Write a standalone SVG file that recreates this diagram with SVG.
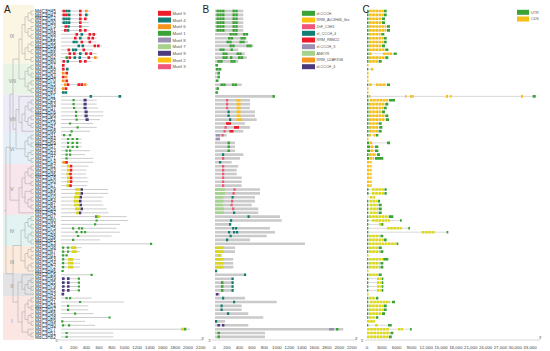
<svg xmlns="http://www.w3.org/2000/svg" width="550" height="351" viewBox="0 0 550 351">
<style>
.t{font-family:"Liberation Sans",Arial,sans-serif}
.pl{font-size:10px;fill:#222}
.cl{font-size:5px;fill:#8a8a8a;text-anchor:middle}
.lb{font-size:4.6px;fill:#222}
.ax{font-size:4.4px;fill:#444;text-anchor:middle}
.lg{font-size:4.4px;fill:#555}
.lg2{font-size:3.7px;fill:#555}
.pr{font-size:3.6px;fill:#444}
.tree{fill:none;stroke:#9a9a9a;stroke-width:.45}
.bb{fill:none;stroke:#8c8c8c;stroke-width:.45}
.axl{fill:none;stroke:#999;stroke-width:.4}
.mt{fill:none;stroke-width:2.7}
.sm{fill:none;stroke-width:2.2}
.bar{fill:none;stroke:#cacaca;stroke-width:2.6}
.dm{fill:none;stroke-width:2.6}
.intr{fill:none;stroke:#a0a0a0;stroke-width:.4}
.utr{fill:none;stroke:#3aa335;stroke-width:2.6}
.cds{fill:none;stroke:#f5bf18;stroke-width:2.6;stroke-dasharray:2.6 .6}
.cdl{fill:none;stroke:#dcd81c;stroke-width:2.6;stroke-dasharray:2.6 .6}
.red{stroke:#ec1c2a}.teal{stroke:#127d72}.ora{stroke:#f7941d}.grn{stroke:#3aa335}
.gp{stroke:#9b91b5}.lgn{stroke:#a5d28c}.pur{stroke:#4b3b7e}.gold{stroke:#fdc010}
.pink{stroke:#f0557a}.lime{stroke:#d9d41e}
</style>

<g id="clade-bands">
<rect x="3" y="5" width="31" height="58.5" fill="#fbf5e3"/>
<rect x="3" y="63.5" width="31" height="31" fill="#e9f4e6"/>
<rect x="3" y="94.5" width="31" height="38.5" fill="#ecebf6"/>
<rect x="3" y="133" width="31" height="31" fill="#e5f0f8"/>
<rect x="3" y="164" width="31" height="51" fill="#f9e6ec"/>
<rect x="3" y="215" width="31" height="31" fill="#e2f3f2"/>
<rect x="3" y="246" width="31" height="27" fill="#fcebdc"/>
<rect x="3" y="273" width="31" height="23" fill="#e3e3e6"/>
<rect x="3" y="296" width="31" height="44" fill="#fbe6e3"/>
</g>

<g id="panel-letters" class="t">
<text class="pl" x="4" y="12.5">A</text>
<text class="pl" x="202.5" y="12.5">B</text>
<text class="pl" x="362.5" y="12.5">C</text>
</g>

<g id="clade-labels" class="t">
<text class="cl" x="12" y="38">IX</text>
<text class="cl" x="12.5" y="83">VIII</text>
<text class="cl" x="12.5" y="121">VII</text>
<text class="cl" x="12" y="151">VI</text>
<text class="cl" x="12" y="191">V</text>
<text class="cl" x="12" y="233">IV</text>
<text class="cl" x="12" y="264">III</text>
<text class="cl" x="12" y="288">II</text>
<text class="cl" x="12" y="323">I</text>
</g>

<g id="tree">
<path class="tree" d="M34 11H31V14.9H34M34 18.8H31V22.6H34M34 26.5H31V30.4H34M34 34.3H31V38.2H34M34 42H31V45.9H34M34 49.8H31V53.7H34M34 57.6H31V61.4H34M31 12.9H28V20.7H31M31 28.5H28V36.2H31M31 44H28V51.7H31M28 16.8H25V32.3H28M28 47.8H25V59.5H31M25 24.6H22V53.6H25
M34 65.3H31V69.2H34M34 73.1H31V77H34M34 80.8H31V84.7H34M34 88.6H31V92.5H34M31 67.3H28V75H31M31 82.8H28V90.5H31M28 71.2H25V86.7H28M22 39.1H19V78.9H25
M34 100.2H31V104.1H34M34 108H31V111.9H34M34 115.8H31V119.6H34M34 123.5H31V127.4H34M31 102.2H28V110H31M31 117.7H28V125.5H31M28 106.1H25V121.6H28M25 113.9H22V131.3H34M34 96.4H19V122.6H22
M34 135.2H31V139H34M34 142.9H31V146.8H34M34 150.7H31V154.6H34M34 158.4H31V162.3H34M31 137.1H28V144.9H31M31 152.6H28V160.4H31M28 141H25V156.5H28M19 109.5H16V148.8H25
M34 166.2H31V170.1H34M34 174H31V177.8H34M34 181.7H31V185.6H34M34 189.5H31V193.4H34M34 197.2H31V201.1H34M34 205H31V208.9H34M31 168.1H28V175.9H31M31 199.2H28V207H31M28 172H25V183.7H31M31 191.4H25V203.1H28M25 177.9H22V197.3H25M22 187.6H19V212.8H34M19 59H13V129.2H16M13 94.1H10V200.2H19
M34 216.6H31V220.5H34M34 224.4H31V228.3H34M34 232.2H31V236H34M34 239.9H31V243.8H34M31 218.6H28V226.3H31M31 234.1H28V241.9H31M28 222.5H25V238H28
M34 247.7H31V251.6H34M34 255.4H31V259.3H34M34 263.2H31V267.1H34M31 249.6H28V257.4H31M31 265.1H28V271H34M28 253.5H25V268.1H28M25 230.2H21V260.8H25
M34 278.7H31V282.6H34M34 286.5H31V290.4H34M31 280.7H28V288.4H31M28 284.6H25V294.2H34M34 274.8H22V289.4H25
M34 298.1H31V302H34M34 305.9H31V309.8H34M34 313.6H31V317.5H34M34 321.4H31V325.3H34M34 333H31V336.9H34M31 300.1H28V307.8H31M31 315.6H28V323.3H31M34 329.2H28V335H31M28 304H25V319.5H28M25 311.8H22V332.1H28M22 282.1H18V322H22M21 245.5H13V302.1H18M10 147.2H6V273.8H13M6 210.5H4"/>
</g>

<g id="gene-labels" class="t">
<text class="lb"><tspan x="35" y="12.6">MdC3H45</tspan><tspan x="35" y="16.5">MdC3H47</tspan><tspan x="35" y="20.4">MdC3H12</tspan><tspan x="35" y="24.2">MdC3H30</tspan><tspan x="35" y="28.1">MdC3H73</tspan><tspan x="35" y="32">MdC3H61</tspan><tspan x="35" y="35.9">MdC3H08</tspan><tspan x="35" y="39.8">MdC3H22</tspan><tspan x="35" y="43.6">MdC3H55</tspan><tspan x="35" y="47.5">MdC3H39</tspan><tspan x="35" y="51.4">MdC3H18</tspan><tspan x="35" y="55.3">MdC3H66</tspan><tspan x="35" y="59.2">MdC3H02</tspan><tspan x="35" y="63">MdC3H80</tspan><tspan x="35" y="66.9">MdC3H27</tspan><tspan x="35" y="70.8">MdC3H58</tspan><tspan x="35" y="74.7">MdC3H04</tspan><tspan x="35" y="78.6">MdC3H34</tspan><tspan x="35" y="82.4">MdC3H70</tspan><tspan x="35" y="86.3">MdC3H15</tspan><tspan x="35" y="90.2">MdC3H49</tspan><tspan x="35" y="94.1">MdC3H83</tspan><tspan x="35" y="98">MdC3H11</tspan><tspan x="35" y="101.8">MdC3H25</tspan><tspan x="35" y="105.7">MdC3H63</tspan><tspan x="35" y="109.6">MdC3H37</tspan><tspan x="35" y="113.5">MdC3H76</tspan><tspan x="35" y="117.4">MdC3H06</tspan><tspan x="35" y="121.2">MdC3H52</tspan><tspan x="35" y="125.1">MdC3H19</tspan><tspan x="35" y="129">MdC3H41</tspan><tspan x="35" y="132.9">MdC3H68</tspan><tspan x="35" y="136.8">MdC3H31</tspan><tspan x="35" y="140.6">MdC3H84</tspan><tspan x="35" y="144.5">MdC3H09</tspan><tspan x="35" y="148.4">MdC3H57</tspan><tspan x="35" y="152.3">MdC3H23</tspan><tspan x="35" y="156.2">MdC3H44</tspan><tspan x="35" y="160">MdC3H71</tspan><tspan x="35" y="163.9">MdC3H14</tspan><tspan x="35" y="167.8">MdC3H62</tspan><tspan x="35" y="171.7">MdC3H03</tspan><tspan x="35" y="175.6">MdC3H36</tspan><tspan x="35" y="179.4">MdC3H78</tspan><tspan x="35" y="183.3">MdC3H50</tspan><tspan x="35" y="187.2">MdC3H17</tspan><tspan x="35" y="191.1">MdC3H29</tspan><tspan x="35" y="195">MdC3H65</tspan><tspan x="35" y="198.8">MdC3H10</tspan><tspan x="35" y="202.7">MdC3H54</tspan><tspan x="35" y="206.6">MdC3H81</tspan><tspan x="35" y="210.5">MdC3H26</tspan><tspan x="35" y="214.4">MdC3H42</tspan><tspan x="35" y="218.2">MdC3H07</tspan><tspan x="35" y="222.1">MdC3H60</tspan><tspan x="35" y="226">MdC3H33</tspan><tspan x="35" y="229.9">MdC3H75</tspan><tspan x="35" y="233.8">MdC3H20</tspan><tspan x="35" y="237.6">MdC3H48</tspan><tspan x="35" y="241.5">MdC3H85</tspan><tspan x="35" y="245.4">MdC3H13</tspan><tspan x="35" y="249.3">MdC3H38</tspan><tspan x="35" y="253.2">MdC3H67</tspan><tspan x="35" y="257">MdC3H01</tspan><tspan x="35" y="260.9">MdC3H53</tspan><tspan x="35" y="264.8">MdC3H24</tspan><tspan x="35" y="268.7">MdC3H72</tspan><tspan x="35" y="272.6">MdC3H46</tspan><tspan x="35" y="276.4">MdC3H16</tspan><tspan x="35" y="280.3">MdC3H59</tspan><tspan x="35" y="284.2">MdC3H35</tspan><tspan x="35" y="288.1">MdC3H79</tspan><tspan x="35" y="292">MdC3H05</tspan><tspan x="35" y="295.8">MdC3H43</tspan><tspan x="35" y="299.7">MdC3H64</tspan><tspan x="35" y="303.6">MdC3H21</tspan><tspan x="35" y="307.5">MdC3H74</tspan><tspan x="35" y="311.4">MdC3H32</tspan><tspan x="35" y="315.2">MdC3H56</tspan><tspan x="35" y="319.1">MdC3H28</tspan><tspan x="35" y="323">MdC3H69</tspan><tspan x="35" y="326.9">MdC3H40</tspan><tspan x="35" y="330.8">MdC3H77</tspan><tspan x="35" y="334.6">MdC3H51</tspan><tspan x="35" y="338.5">MdC3H82</tspan></text>
</g>

<g id="panelA-motifs">
<path class="bb" d="M61 11H90.7M61 14.9H90M61 18.8H88.3M61 22.6H89.3M61 26.5H89.3M61 30.4H90M61 34.3H96.7M61 38.2H96.7M61 42H96.7M61 45.9H101.7M61 49.8H93.3M61 53.7H96.7M61 57.6H98.3M61 61.4H91.7M61 65.3H63.5M61 69.2H68.3M61 73.1H67.7M61 77H66.7M61 80.8H67.7M61 84.7H88.3M61 88.6H66M61 92.5H66M61 96.4H121.7M61 100.2H96.7M61 104.1H96.7M61 108H98.3M61 111.9H103.3M61 115.8H103.3M61 119.6H100M61 123.5H93.3M61 127.4H96.7M61 131.3H90M61 135.2H71.7M61 139H81.7M61 142.9H81.7M61 146.8H81.7M61 150.7H90M61 154.6H85M61 158.4H93.3M61 162.3H93.3M61 166.2H88.3M61 170.1H86.7M61 174H86M61 177.8H87.3M61 181.7H88.3M61 185.6H87.3M61 189.5H108.3M61 193.4H108.3M61 197.2H103.3M61 201.1H101.7M61 205H103.3M61 208.9H106.7M61 212.8H108.3M61 216.6H126.7M61 220.5H128.3M61 224.4H120M61 228.3H116.7M61 232.2H120M61 236H111.7M61 239.9H100M61 243.8H151.7M61 247.7H81.7M61 251.6H80M61 255.4H68.3M61 259.3H80M61 263.2H80M61 267.1H80M61 271H64M61 274.8H91.7M61 278.7H80M61 282.6H80M61 286.5H80M61 290.4H80M61 294.2H64.5M61 298.1H91.7M61 302H124M61 305.9H88.3M61 309.8H88.3M61 313.6H93.3M61 317.5H110M61 321.4H85M61 325.3H95M61 329.2H190M61 333H113.3M61 336.9H113.3"/>
<path class="mt red" d="M62.5 11h2.6M79 11h2.6M62.5 14.9h2.6M65.2 14.9h2.6M79 14.9h2.6M79 18.8h2.6M84 18.8h2.6M79 22.6h2.6M64.5 26.5h2.6M79 26.5h2.6M64 30.4h2.6M79 30.4h2.6M84 30.4h2.6M75.5 34.3h2.6M88.5 34.3h2.6M92.5 34.3h2.6M74 38.2h2.6M87.5 38.2h2.6M91.5 38.2h2.6M80.5 42h2.6M88.5 42h2.6M93.5 45.9h2.6M97 45.9h2.6M67.5 49.8h2.6M82.5 49.8h2.6M68.5 53.7h2.6M73 53.7h2.6M85 53.7h2.6M89.5 53.7h2.6M68.5 57.6h2.6M87.5 57.6h2.6M62.5 61.4h2.6M79 61.4h2.6M84 61.4h2.6M62 65.3h2.6M62 69.2h2.6M65.5 73.1h2.6M62 77h2.6M65.5 80.8h2.6M66.7 84.7h2.6M77.5 84.7h2.6M80.5 84.7h2.6M64.7 88.6h2.6M65.2 162.3h2.6M69.7 166.2h2.6M69.7 170.1h2.6M69.2 174h2.6M69.7 177.8h2.6M69.7 181.7h2.6M69.2 185.6h2.6"/>
<path class="mt teal" d="M65.2 11h2.5M67.9 11h2.5M67.9 14.9h2.6M85 14.9h2.6M62.5 18.8h2.5M65.2 18.8h2.5M67.9 18.8h2.5M62.5 22.6h2.5M65.2 22.6h2.5M67.9 22.6h2.5M67.2 26.5h2.6M66.7 30.4h2.6M80.5 34.3h2.6M79 38.2h2.6M72.5 42h2.5M75.2 42h2.5M77.5 45.9h2.6M81.5 45.9h2.6M72 49.8h2.5M74.7 49.8h2.5M79 53.7h2.6M73.5 57.6h2.6M78.5 57.6h2.6M66.5 61.4h2.6M66 69.2h2.6M62 92.5h2.5M64.7 92.5h2.5M89.5 96.4h2.6M118.5 96.4h2.6"/>
<path class="mt ora" d="M85 11h2.6M94 57.6h2.6M62 73.1h2.6M64.7 77h2.6M62 80.8h2.6M64 84.7h2.6M83.7 84.7h2.6M62 88.6h2.6M62.5 162.3h2.6"/>
<path class="mt grn" d="M65.5 57.6h2.6M95 216.6h2.6M183.7 329.2h2.6"/>
<path class="sm grn" d="M72.5 100.2h2.2M72.5 104.1h2.2M73 108h2.2M75 111.9h2.2M75 115.8h2.2M75.5 119.6h2.2M69 123.5h2.2M76.5 127.4h2.2M70.5 131.3h2.2M63 135.2h2.2M69 135.2h2.2M67 139h2.2M71.5 139h2.2M76 139h2.2M67 142.9h2.2M71.5 142.9h2.2M76 142.9h2.2M67 146.8h2.2M71.5 146.8h2.2M76 146.8h2.2M65.5 150.7h2.2M69 150.7h2.2M65.5 154.6h2.2M69 154.6h2.2M65.5 158.4h2.2M95.5 220.5h2.2M94 224.4h2.2M72 228.3h2.2M78 228.3h2.2M81 228.3h2.2M75.5 232.2h2.2M80.5 232.2h2.2M84 232.2h2.2M77 236h2.2M72 239.9h2.2M150 243.8h2.2M62 247.7h2.2M67 247.7h2.2M62 251.6h2.2M67 251.6h2.2M62 255.4h2.2M65.5 255.4h2.2M62 259.3h2.2M62 263.2h2.2M62 267.1h2.2M61.5 271h2.2M90.5 274.8h2.2M77.8 278.7h2.2M77.8 282.6h2.2M77.8 286.5h2.2M77.8 290.4h2.2M65.5 298.1h2.2M69 298.1h2.2M79 302h2.2M67 305.9h2.2M67 309.8h2.2M74 313.6h2.2M108.5 317.5h2.2M61.2 321.4h2.2M62 325.3h2.2M68 325.3h2.2M65.5 333h2.2M65.5 336.9h2.2"/>
<path class="mt pur" d="M83.5 100.2h3.2M83.5 104.1h3.2M83.5 108h3.2M84.5 111.9h3.2M84.5 115.8h3.2M85.5 119.6h3.2M80.4 189.5h2.6M80.4 193.4h2.6M79.4 197.2h2.6M78.9 201.1h2.6M79.4 205h2.6M80.4 208.9h2.6M78.7 212.8h2.6M62 278.7h2.6M67 278.7h2.6M62 282.6h2.6M67 282.6h2.6M62 286.5h2.6M67 286.5h2.6M62 290.4h2.6M67 290.4h2.6M61.5 294.2h2.6"/>
<path class="mt lime" d="M67 166.2h2.6M67 170.1h2.6M66.5 174h2.6M67 177.8h2.6M67 181.7h2.6M66.5 185.6h2.6M75 189.5h5.3M75 193.4h5.3M74 197.2h5.3M73.5 201.1h5.3M74 205h5.3M75 208.9h5.3M76 212.8h2.6M97.7 216.6h2.6M71 247.7h5.3M71.5 251.6h5.3M68 259.3h5.3M68 263.2h5.3M68 267.1h5.3M181 329.2h2.6"/>
</g>

<g id="panelA-legend" class="t">
<rect x="158" y="10.8" width="13" height="5" fill="#ec1c2a"/><text class="lg" x="172.5" y="14.8">Motif 5</text>
<rect x="158" y="17.5" width="13" height="5" fill="#127d72"/><text class="lg" x="172.5" y="21.5">Motif 4</text>
<rect x="158" y="24.2" width="13" height="5" fill="#f7941d"/><text class="lg" x="172.5" y="28.2">Motif 6</text>
<rect x="158" y="30.8" width="13" height="5" fill="#3aa335"/><text class="lg" x="172.5" y="34.8">Motif 1</text>
<rect x="158" y="37.5" width="13" height="5" fill="#9b91b5"/><text class="lg" x="172.5" y="41.5">Motif 8</text>
<rect x="158" y="44.2" width="13" height="5" fill="#a5d28c"/><text class="lg" x="172.5" y="48.2">Motif 7</text>
<rect x="158" y="50.8" width="13" height="5" fill="#4b3b7e"/><text class="lg" x="172.5" y="54.8">Motif 9</text>
<rect x="158" y="57.5" width="13" height="5" fill="#fdc010"/><text class="lg" x="172.5" y="61.5">Motif 2</text>
<rect x="158" y="64.2" width="13" height="5" fill="#f0557a"/><text class="lg" x="172.5" y="68.2">Motif 3</text>
</g>

<g id="panelB-domains">
<path class="bar" d="M215 11H243.3M215 14.9H243.3M215 18.8H243.3M215 22.6H243.3M215 26.5H243.3M215 30.4H243.3M215 34.3H248.3M215 38.2H246.7M215 42H247.7M215 45.9H253.3M215 49.8H238.3M215 53.7H245M215 57.6H246.7M215 61.4H238.3M215 65.3H218.3M215 69.2H221.7M215 73.1H220M215 77H220M215 80.8H218.3M215 84.7H241.7M215 88.6H219M215 92.5H218.3M215 96.4H275M215 100.2H250M215 104.1H250M215 108H250M215 111.9H255M215 115.8H255M215 119.6H256.7M215 123.5H245M215 127.4H250M215 131.3H243.3M215 135.2H226.7M215 139H220M215 142.9H235M215 146.8H235M215 150.7H235M215 154.6H243.3M215 158.4H240M215 162.3H231.7M215 166.2H238.3M215 170.1H236.7M215 174H236.7M215 177.8H241.7M215 181.7H241.7M215 185.6H241.7M215 189.5H260M215 193.4H260M215 197.2H255M215 201.1H255M215 205H251.7M215 208.9H258.3M215 212.8H258.3M215 216.6H280M215 220.5H281.7M215 224.4H230M215 228.3H270M215 232.2H275M215 236H266.7M215 239.9H250M215 243.8H305M215 247.7H235M215 251.6H235M215 255.4H221.7M215 259.3H233.3M215 263.2H233.3M215 267.1H233.3M215 271H216.7M215 274.8H245M215 278.7H233.3M215 282.6H233.3M215 286.5H233.3M215 290.4H233.3M215 294.2H220M215 298.1H245M215 302H276.7M215 305.9H241.7M215 309.8H241.7M215 313.6H248.3M215 317.5H263.3M215 321.4H225M215 325.3H248.3M215 329.2H343.3M215 333H265M215 336.9H265"/>
<path class="dm grn" d="M216.5 11h2.4M219.3 11h2.4M222.1 11h2.4M232.5 11h2.4M235.3 11h2.4M216.5 14.9h2.4M219.3 14.9h2.4M222.1 14.9h2.4M232.5 14.9h2.4M235.3 14.9h2.4M216.5 18.8h2.4M219.3 18.8h2.4M222.1 18.8h2.4M232.5 18.8h2.4M235.3 18.8h2.4M216.5 22.6h2.4M219.3 22.6h2.4M222.1 22.6h2.4M232.5 22.6h2.4M235.3 22.6h2.4M216.5 26.5h2.4M219.3 26.5h2.4M222.1 26.5h2.4M232.5 26.5h2.4M235.3 26.5h2.4M216.5 30.4h2.4M219.3 30.4h2.4M222.1 30.4h2.4M232.5 30.4h2.4M235.3 30.4h2.4M229.5 34.3h2.4M232.3 34.3h2.4M235.1 34.3h2.4M243 34.3h2.4M245.7 34.3h2.4M228 38.2h2.4M230.7 38.2h2.4M240.5 38.2h2.4M243.2 38.2h2.4M226.5 42h2.4M229.2 42h2.4M239.5 42h2.4M242.2 42h2.4M229.5 45.9h2.4M232.2 45.9h2.4M246.5 45.9h2.4M249.2 45.9h2.4M219.5 49.8h2.4M222.2 49.8h2.4M230.5 49.8h2.4M222.5 53.7h2.4M225.2 53.7h2.4M236.5 53.7h2.4M239.2 53.7h2.4M222.5 57.6h2.4M225.2 57.6h2.4M230 57.6h2.4M238 57.6h2.4M240.7 57.6h2.4M217.5 61.4h2.4M220.2 61.4h2.4M230.5 61.4h2.4M233.2 61.4h2.4M215.5 65.3h2.4M216 69.2h2.4M218.7 69.2h2.4M217.5 73.1h2.4M217.5 77h2.4M216 80.8h2.4M220.5 84.7h2.4M223.2 84.7h2.4M232 84.7h2.4M234.7 84.7h2.4M216.5 88.6h2.4M215.5 92.5h2.4M272.5 96.4h2.4M227.5 142.9h2.4M227.5 146.8h2.4M227.5 150.7h2.4M221 282.6h2.4M221 286.5h2.4M221 290.4h2.4M336 329.2h2.4M217.5 333h2.4M217.5 336.9h2.4"/>
<path class="dm gold" d="M236.5 100.2h4M236.5 104.1h4M236.5 108h4M236.5 111.9h4M236.5 115.8h4M236.5 119.6h5"/>
<path class="dm pink" d="M226 100.2h2.2M226 104.1h2.2M226 108h2.2M224.5 127.4h2.2M223.5 131.3h2.2M221.5 135.2h2.2M222 158.4h2.2M222 166.2h2.2M222 170.1h2.2M222 174h2.2M222 177.8h2.2M222 181.7h2.2M222 185.6h2.2M233.5 189.5h2.2M232.5 193.4h2.2M231 201.1h2.2M230.5 205h2.2M232 208.9h2.2"/>
<path class="dm teal" d="M227.5 111.9h2.2M227.5 115.8h2.2M229 119.6h2.2M222 154.6h2.2M219 162.3h2.2M231.5 197.2h2.2M233 212.8h2.2M247.5 216.6h2.2M230 220.5h2.2M229 224.4h2.2M232 228.3h2.2M235 228.3h2.2M228 232.2h2.2M233 232.2h2.2M236 232.2h2.2M229.5 236h2.2M226 239.9h2.2M215 271h2.2M244 274.8h2.2M231.5 278.7h2.2M231.5 282.6h2.2M231.5 286.5h2.2M231.5 290.4h2.2M222 298.1h2.2M233 302h2.2M220.5 305.9h2.2M220.5 309.8h2.2M227 313.6h2.2M215 321.4h2.2"/>
<path class="dm red" d="M226 123.5h5M234 127.4h5M229.5 131.3h4"/>
<path class="dm gp" d="M216 135.2h4M216 139h4M329 329.2h5"/>
<path class="dm lgn" d="M215 189.5h10M215 193.4h10M215 197.2h8.5M215 201.1h8.5M215 205h8M215 208.9h9M215 212.8h9"/>
<path class="dm lime" d="M215 247.7h8.5M215 251.6h8.5M217.5 255.4h3M215 259.3h8.5M215 263.2h8.5M215 267.1h8.5"/>
<path class="dm pur" d="M216 294.2h2.4M217.5 325.3h2.4M222 325.3h2.4"/>
</g>

<g id="panelB-legend" class="t">
<rect x="302" y="10.8" width="13" height="5" fill="#3aa335"/><text class="lg2" x="316.5" y="14.7">zf-CCCH</text>
<rect x="302" y="17.5" width="13" height="5" fill="#fdc010"/><text class="lg2" x="316.5" y="21.4">RRM_AtC3H46_like</text>
<rect x="302" y="24.2" width="13" height="5" fill="#f0557a"/><text class="lg2" x="316.5" y="28.1">ZnF_C3H1</text>
<rect x="302" y="30.8" width="13" height="5" fill="#127d72"/><text class="lg2" x="316.5" y="34.7">zf_CCCH_4</text>
<rect x="302" y="37.5" width="13" height="5" fill="#ec1c2a"/><text class="lg2" x="316.5" y="41.4">RRM_RBM22</text>
<rect x="302" y="44.2" width="13" height="5" fill="#9b91b5"/><text class="lg2" x="316.5" y="48.1">zf-CCCH_3</text>
<rect x="302" y="50.8" width="13" height="5" fill="#a5d28c"/><text class="lg2" x="316.5" y="54.7">ANKYR</text>
<rect x="302" y="57.5" width="13" height="5" fill="#f7941d"/><text class="lg2" x="316.5" y="61.4">RRM_U2AF35B</text>
<rect x="302" y="64.2" width="13" height="5" fill="#4b3b7e"/><text class="lg2" x="316.5" y="68.1">zf-CCCH_4</text>
</g>

<g id="panelC-structures">
<path class="intr" d="M367 11H386.7M367 14.9H386.7M367 18.8H385M367 22.6H385M367 26.5H390M367 30.4H390M367 34.3H384.3M367 38.2H386.7M367 42H386.7M367 45.9H385M367 49.8H388.3M367 53.7H396.7M367 57.6H388.3M367 61.4H381.7M367 69.2H373.3M367 84.7H390M367 96.4H535.7M367 100.2H395M367 104.1H388.3M367 108H386.7M367 111.9H385M367 115.8H388.3M367 119.6H389M367 123.5H381.7M367 127.4H382.3M367 131.3H381.7M367 135.2H378.3M367 142.9H390M367 146.8H378.3M367 150.7H378.3M367 154.6H380M367 158.4H383.3M367 189.5H386.7M367 193.4H386.7M367 197.2H375M367 201.1H380M367 205H381.7M367 208.9H381.7M367 212.8H381.7M367 216.6H393.3M367 220.5H401.7M367 224.4H383.3M367 228.3H410M367 232.2H448.3M367 236H383.3M367 239.9H386.7M367 243.8H398.3M367 247.7H381.7M367 251.6H383.3M367 259.3H388.3M367 263.2H383.3M367 267.1H383.3M367 274.8H381.7M367 278.7H383.3M367 282.6H383.3M367 286.5H383.3M367 290.4H383.3M367 298.1H378.3M367 302H395M367 305.9H386.7M367 309.8H386.7M367 313.6H385M367 317.5H378.3M367 321.4H375M367 325.3H391.7M367 329.2H411.7M367 333H393.3M367 336.9H391.7"/>
<path class="cds" d="M369 11H383M369 14.9H383M369 18.8H381.3M369 22.6H381.3M369 26.5H386.3M369 30.4H386.3M369 34.3H380.6M369 38.2H383M369 42H383M369 45.9H381.3M369 49.8H384.6M369 53.7H372M383 53.7H392M369 57.6H384.6M369 61.4H378M367 65.3h1.5M371 69.2H373.3M367 73.1h1.5M367 77h1.5M367 80.8h1.5M369 84.7H372M376 84.7H386M367 88.6h1.5M367 92.5h1.5M369 96.4h1.5M405 96.4h1.5M410 96.4h4M446 96.4h2M450 96.4h1.5M521 96.4h2M370 100.2H388M369 104.1H384.6M369 108H383M369 111.9H381.3M369 115.8H384.6M369 119.6H385.3M369 123.5H378M369 127.4H378.6M369 131.3H378M369 135.2H371M373.5 135.2H375.5M367 139h1.5M369.5 142.9H372.5M370.5 146.8H374M370.5 150.7H374M369 154.6H376M369.5 158.4H374M367 162.3H371.7M367 166.2H371.7M367 170.1H371.7M367 174H371.7M367 177.8H371.7M367 181.7H371.7M367 185.6H371.7"/>
<path class="cdl" d="M372 189.5H384M372 193.4H384M370 197.2H375M369.5 201.1H377.5M370 205H378M370 208.9H378M370 212.8H378M369 216.6H388.3M372 220.5H390M379 224.4H381M387 228.3H401.7M421.7 232.2H435M369 236H380M369 239.9H383M368.8 243.8H396.5M369 247.7H378M369 251.6H380M367 255.4h1.5M369 259.3H383M369 263.2H380M369 267.1H380M367 271h1.5M369 274.8H378M377 278.7H381.5M377 282.6H381.5M377 286.5H381.5M377 290.4H381.5M367 294.2h1.5M369 298.1H375.5M370 302H390M369 305.9H383M369 309.8H383M369 313.6H381.3M369 317.5H375.5M367 321.4H375M375 325.3H378M367 329.2H389M398 329.2H403M367 333H390M367 336.9H388.5"/>
<path class="utr" d="M367 11h1.5M383.7 11h3M367 14.9h1.5M383.7 14.9h3M367 18.8h1.5M382 18.8h3M367 22.6h1.5M382 22.6h3M367 26.5h1.5M387 26.5h3M367 30.4h1.5M387 30.4h3M367 34.3h1.5M381.3 34.3h3M367 38.2h1.5M383.7 38.2h3M367 42h1.5M383.7 42h3M367 45.9h1.5M382 45.9h3M367 49.8h1.5M385.3 49.8h3M367 53.7h1.5M393.7 53.7h3M367 57.6h1.5M385.3 57.6h3M367 61.4h1.5M378.7 61.4h3M367 69.2h1.3M367 84.7h1.3M387 84.7h3M367 96.4h1.3M532.7 96.4h3M367 100.2h1.5M389 100.2h6M367 104.1h1.5M385.3 104.1h3M367 108h1.5M383.7 108h3M367 111.9h1.5M382 111.9h3M367 115.8h1.5M385.3 115.8h3M367 119.6h1.5M386 119.6h3M367 123.5h1.5M378.7 123.5h3M367 127.4h1.5M379.3 127.4h3M367 131.3h1.5M378.7 131.3h3M367 135.2h1.5M376 135.2h2.3M367 142.9h2M387 142.9h3M367 146.8h3M375 146.8h3.3M367 150.7h3M375 150.7h3.3M367 154.6h1.5M377 154.6h3M367 158.4h2M375 158.4h8.3M367 189.5h1.5M384.5 189.5h2.2M367 193.4h1.5M384.5 193.4h2.2M367 201.1h1.3M378 201.1h2M367 205h1.3M378.7 205h3M367 208.9h1.3M378.7 208.9h3M367 212.8h1.3M378.7 212.8h3M367 216.6h1.3M388.8 216.6h4.5M367 220.5h1.3M400 220.5h1.7M367 224.4h1.3M381.3 224.4h2M367 228.3h1.3M408.3 228.3h1.7M367 232.2h1.3M446.6 232.2h1.7M367 236h1.3M380.5 236h2.8M367 239.9h1.3M383.7 239.9h3M367 243.8h1.3M396.8 243.8h1.5M367 247.7h1.3M378.7 247.7h3M367 251.6h1.3M380.5 251.6h2.8M367 259.3h1.3M383.3 259.3h5M367 263.2h1.3M380.5 263.2h2.8M367 267.1h1.3M380.5 267.1h2.8M367 274.8h1.3M378.7 274.8h3M367 278.7h1.3M381.8 278.7h1.5M367 282.6h1.3M381.8 282.6h1.5M367 286.5h1.3M381.8 286.5h1.5M367 290.4h1.3M381.8 290.4h1.5M367 298.1h1.3M376 298.1h2.3M367 302h1.3M392 302h3M367 305.9h1.3M383.7 305.9h3M367 309.8h1.3M383.7 309.8h3M367 313.6h1.3M382 313.6h3M367 317.5h1.3M376 317.5h2.3M367 325.3h1.3M388 325.3h3.7M410 329.2h1.7M390.5 333h2.8M389 336.9h2.7"/>
</g>

<g id="panelC-legend" class="t">
<rect x="517" y="9.8" width="12" height="5" fill="#3aa335"/><text class="lg2" x="531" y="13.6">UTR</text>
<rect x="517" y="16.5" width="12" height="5" fill="#f5bf18"/><text class="lg2" x="531" y="20.3">CDS</text>
</g>

<g id="axes" class="t">
<path class="axl" d="M58 340H203M212 340H356M365 340H540"/>
<text class="pr" x="55.5" y="341.5">5'</text>
<text class="pr" x="201.5" y="339.5">3'</text>
<text class="pr" x="208.5" y="341.5">5'</text>
<text class="pr" x="355" y="339.5">3'</text>
<text class="pr" x="361" y="341.5">5'</text>
<text class="pr" x="539" y="339">3'</text>
<text class="ax" y="348.5"><tspan x="61">0</tspan><tspan x="73.7">200</tspan><tspan x="86.4">400</tspan><tspan x="99.1">600</tspan><tspan x="111.8">800</tspan><tspan x="124.5">1000</tspan><tspan x="137.2">1200</tspan><tspan x="149.9">1400</tspan><tspan x="162.6">1600</tspan><tspan x="175.3">1800</tspan><tspan x="188">2000</tspan><tspan x="200.7">2200</tspan></text>
<text class="ax" y="348.5"><tspan x="214.5">0</tspan><tspan x="227">200</tspan><tspan x="239.5">400</tspan><tspan x="252">600</tspan><tspan x="264.4">800</tspan><tspan x="276.9">1000</tspan><tspan x="289.4">1200</tspan><tspan x="301.9">1400</tspan><tspan x="314.3">1600</tspan><tspan x="326.8">1800</tspan><tspan x="339.3">2000</tspan><tspan x="351.8">2200</tspan></text>
<text class="ax" y="348.5"><tspan x="367">0</tspan><tspan x="381.8">3000</tspan><tspan x="396.6">6000</tspan><tspan x="411.5">9000</tspan><tspan x="426.3">12,000</tspan><tspan x="441.1">15,000</tspan><tspan x="455.9">18,000</tspan><tspan x="470.7">21,000</tspan><tspan x="485.6">24,000</tspan><tspan x="500.4">27,000</tspan><tspan x="515.2">30,000</tspan><tspan x="530">33,000</tspan></text>
</g>
</svg>
